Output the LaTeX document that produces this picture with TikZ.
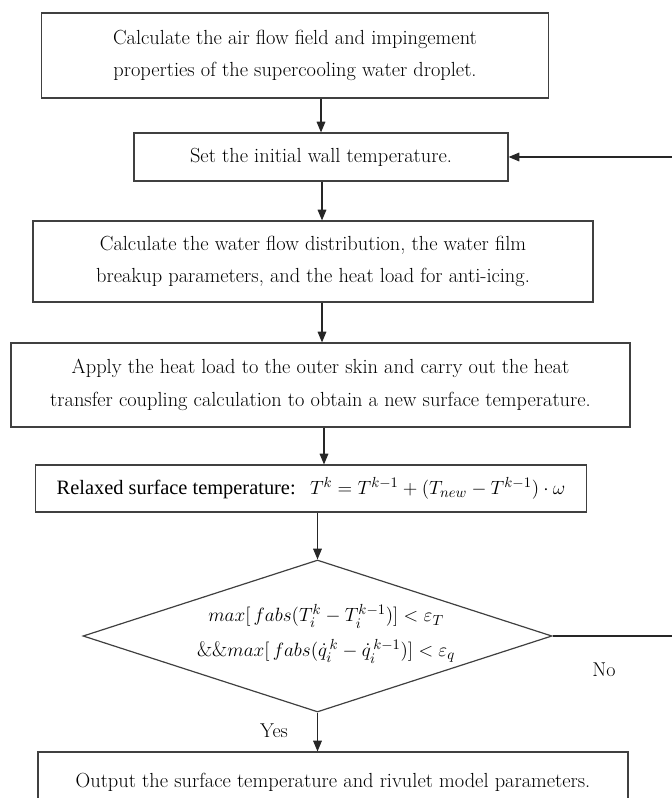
\documentclass[tikz,border=0pt]{standalone}
\usepackage{fontspec}
\usepackage{amsmath}
\newfontfamily\timesfont{Liberation Serif}
\usetikzlibrary{arrows.meta,shapes.geometric}
\begin{document}
\begin{tikzpicture}[x=0.75pt,y=-0.75pt,
  box/.style={draw=black!75, line width=0.9pt, align=center, inner sep=0pt, font=\fontsize{15.3}{24.5}\selectfont},
  arr/.style={draw=black!85, line width=0.8pt, -{Triangle[length=8pt,width=6.5pt]}},
  mtxt/.style={inner sep=0pt, font=\fontsize{15.8}{19}\selectfont},
  lbl/.style={font=\fontsize{15}{17}\selectfont, inner sep=0pt}]
\useasboundingbox (0,0) rectangle (671,798);
\node[box, minimum width=380.25pt, minimum height=63.75pt] (b1) at (295,55.5)
  {Calculate the air flow field and impingement\\properties of the supercooling water droplet.};
\node[box, minimum width=280.5pt, minimum height=36pt] (b2) at (321,157)
  {Set the initial wall temperature.};
\node[box, minimum width=420pt, minimum height=60.75pt] (b3) at (313,261.5)
  {Calculate the water flow distribution, the water film\\breakup parameters, and the heat load for anti-icing.};
\node[box, minimum width=464.25pt, minimum height=63pt] (b4) at (320.5,385)
  {Apply the heat load to the outer skin and carry out the heat\\transfer coupling calculation to obtain a new surface temperature.};
\node[box, minimum width=413.6pt, minimum height=35.25pt] (b5) at (311,488.5)
  {{\timesfont Relaxed surface temperature:}~ $T^k = T^{k-1} + (T_{new} - T^{k-1})\cdot\omega$};
\node[diamond, draw=black!75, line width=0.9pt, minimum width=351.75pt, minimum height=114pt, inner sep=0pt] (dia) at (317.5,636) {};
\node[mtxt] (d1) at (326,616) {$max[\,fabs(T_i^k - T_i^{k-1})] < \varepsilon_T$};
\node[mtxt] (d2) at (326,651) {$\&\&max[\,fabs({\dot{q}}_i^{\,k} - {\dot{q}}_i^{\,k-1})] < \varepsilon_q$};
\node[box, minimum width=442.5pt, minimum height=45pt] (b6) at (333,782)
  {Output the surface temperature and rivulet model parameters.};
\node[lbl] (no) at (604,670) {No};
\node[lbl] (yes) at (274,731) {Yes};
\coordinate (x1) at (321,0);
\coordinate (x2) at (322,0);
\coordinate (x3) at (324,0);
\coordinate (fb) at (676,0);
\draw[arr] (b1.south -| x1) -- (b2.north -| x1);
\draw[arr] (b2.south -| x2) -- (b3.north -| x2);
\draw[arr] (b3.south -| x2) -- (b4.north -| x2);
\draw[arr] (b4.south -| x3) -- (b5.north -| x3);
\draw[arr] (b5.south -| dia.north) -- (dia.north);
\draw[arr] (dia.south) -- (b6.north -| dia.south);
\draw[arr] (dia.east) -- (dia.east -| fb) -- (b2.east -| fb) -- (b2.east);
\end{tikzpicture}
\end{document}
